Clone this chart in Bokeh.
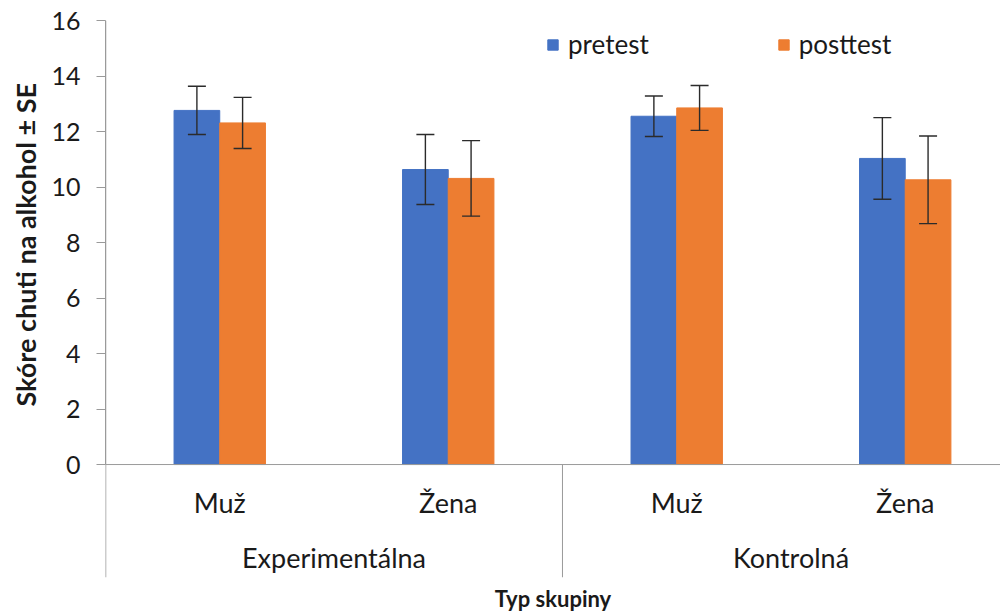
import numpy as np
from bokeh.plotting import figure
from bokeh.models import (Range1d, Span, Whisker, TeeHead, ColumnDataSource,
                          FixedTicker, Legend, LegendItem, Title)
from bokeh.embed import file_html
from bokeh.resources import INLINE
from bokeh.core.properties import value

# ---- data ----
groups = ["Experimentálna", "Kontrolná"]
subgroups = ["Muž", "Žena"]
series = ["pretest", "posttest"]
pretest = [12.76, 10.63, 12.55, 11.03]
pretest_se = [0.87, 1.26, 0.73, 1.47]
posttest = [12.31, 10.31, 12.85, 10.26]
posttest_se = [0.92, 1.36, 0.81, 1.58]
y_ticks = [0, 2, 4, 6, 8, 10, 12, 14, 16]
colors = ["#4472C4", "#ED7D31"]

FONT = "Lato"
AXIS_GREY = "#9a9a9a"
TXT = "#1a1a1a"

n_cat = len(groups) * len(subgroups)
pos = np.arange(n_cat) + 0.5
w = 0.2
y_min = -4.07

p = figure(width=1000, height=614, x_range=Range1d(0, 3.917), y_range=Range1d(y_min, 16),
           output_backend="svg", toolbar_location=None,
           min_border_left=105, min_border_top=20, min_border_right=0, min_border_bottom=37)
p.outline_line_color = None
p.grid.visible = False
p.background_fill_color = "white"

vals = [pretest, posttest]
ses = [pretest_se, posttest_se]
offsets = [-w / 2, w / 2]
renderers = []
for name, v, se, off, c in zip(series, vals, ses, offsets, colors):
    v = np.array(v)
    se = np.array(se)
    src = ColumnDataSource(dict(x=pos + off, top=v, upper=v + se, lower=v - se))
    r = p.vbar(x="x", top="top", width=w, source=src, fill_color=c, line_color=c)
    renderers.append(r)
    wh = Whisker(base="x", upper="upper", lower="lower", source=src,
                 line_color="#2b2b2b", line_width=1.4,
                 upper_head=TeeHead(size=18, line_color="#2b2b2b", line_width=1.4),
                 lower_head=TeeHead(size=18, line_color="#2b2b2b", line_width=1.4))
    wh.level = "overlay"
    p.add_layout(wh)

# zero line and separators
p.add_layout(Span(location=0, dimension="width", line_color=AXIS_GREY, line_width=1))
p.add_layout(Span(location=0, dimension="height", line_color=AXIS_GREY, line_width=1.5))
p.segment(x0=[len(subgroups)], y0=[0], x1=[len(subgroups)], y1=[y_min],
          line_color=AXIS_GREY, line_width=1)

# category labels
sub_labels = [s for g in groups for s in subgroups]
p.text(x=pos, y=[-1.37] * n_cat, text=sub_labels, text_align="center",
       text_baseline="middle", text_font=value(FONT), text_font_size="27px",
       text_color=TXT)
gpos = [len(subgroups) * (i + 0.5) for i in range(len(groups))]
p.text(x=gpos, y=[-3.35] * len(groups), text=groups, text_align="center",
       text_baseline="middle", text_font=value(FONT), text_font_size="27px",
       text_color=TXT)

# y axis
ya = p.yaxis[0]
ya.ticker = FixedTicker(ticks=y_ticks)
ya.bounds = (0, 16)
ya.axis_line_color = AXIS_GREY
ya.major_tick_line_color = AXIS_GREY
ya.major_tick_out = 9
ya.major_tick_in = 0
ya.minor_tick_out = 0
ya.minor_tick_in = 0
ya.major_label_text_font = FONT
ya.major_label_text_font_size = "25px"
ya.major_label_text_color = TXT
ya.major_label_standoff = 16

# y axis title, placed along the 0..16 part of the axis
ytitle = Title(text="Skóre chuti na alkohol ± SE", align="left", offset=171,
               text_font=FONT, text_font_style="bold", text_font_size="27px",
               text_color=TXT, standoff=13)
p.add_layout(ytitle, "left")

# x axis: only the title
xa = p.xaxis[0]
xa.ticker = FixedTicker(ticks=[])
xa.axis_line_color = None
xa.major_tick_out = 0
xa.major_tick_in = 0
xa.minor_tick_out = 0
xa.minor_tick_in = 0
xa.major_label_text_font_size = "0px"
xa.major_label_standoff = 0
xa.axis_label = "Typ skupiny"
xa.axis_label_text_font = FONT
xa.axis_label_text_font_style = "bold"
xa.axis_label_text_font_size = "22px"
xa.axis_label_text_color = TXT
xa.axis_label_standoff = 7

legend = Legend(items=[LegendItem(label=s, renderers=[r]) for s, r in zip(series, renderers)],
                orientation="horizontal", location=(441, 517),
                glyph_width=13, glyph_height=13, label_standoff=9, spacing=128,
                padding=0, margin=0, border_line_color=None, background_fill_alpha=0,
                label_text_font=FONT, label_text_font_size="26px", label_text_color=TXT)
p.add_layout(legend)

open("out.html", "w").write(file_html(p, INLINE))
